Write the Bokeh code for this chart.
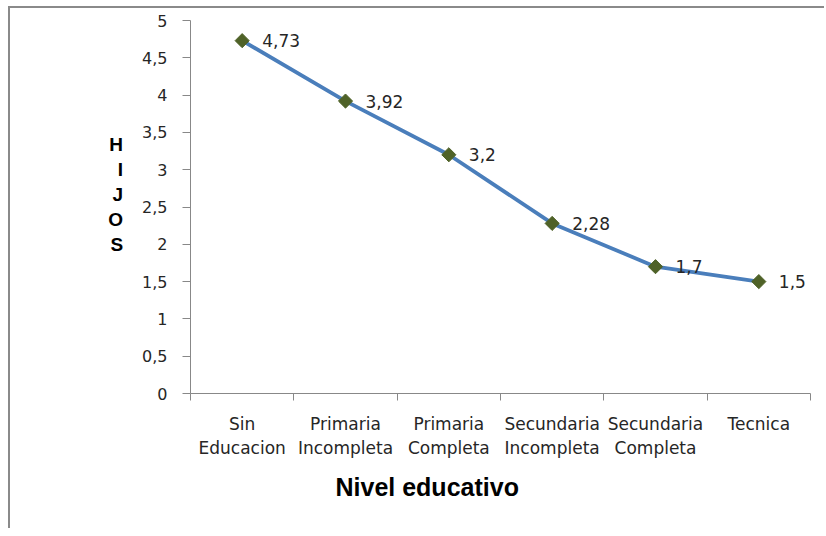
import math
from bokeh.plotting import figure
from bokeh.models import Range1d, FixedTicker, Title
from bokeh.core.properties import value
from bokeh.embed import file_html
from bokeh.resources import INLINE

categories = ["Sin\nEducacion", "Primaria\nIncompleta", "Primaria\nCompleta",
              "Secundaria\nIncompleta", "Secundaria\nCompleta", "Tecnica"]
hijos = [4.73, 3.92, 3.2, 2.28, 1.7, 1.5]
data_labels = ["4,73", "3,92", "3,2", "2,28", "1,7", "1,5"]
y_ticks = [0, 0.5, 1, 1.5, 2, 2.5, 3, 3.5, 4, 4.5, 5]
y_tick_labels = ["0", "0,5", "1", "1,5", "2", "2,5", "3", "3,5", "4", "4,5", "5"]

n = len(categories)
xs = [i + 0.5 for i in range(n)]

p = figure(frame_width=620, frame_height=373, output_backend="svg", toolbar_location=None,
           x_range=Range1d(0, n), y_range=Range1d(0, 5),
           min_border_left=180, min_border_right=14, min_border_top=12, min_border_bottom=135)
p.styles = {"border-left": "2px solid #8a8a8a", "border-top": "2px solid #8a8a8a",
            "margin-left": "8px", "margin-top": "6px"}
p.background_fill_color = "white"
p.border_fill_color = "white"
p.outline_line_color = None
p.xgrid.visible = False
p.ygrid.visible = False

axis_col = "#888888"
lab_col = "#262626"

# x axis
xa = p.xaxis[0]
xa.ticker = FixedTicker(ticks=xs, minor_ticks=list(range(n + 1)))
xa.major_label_overrides = {x: c for x, c in zip(xs, categories)}
xa.major_tick_line_color = None
xa.minor_tick_line_color = axis_col
xa.minor_tick_out = 7
xa.minor_tick_in = 0
xa.axis_line_color = axis_col
xa.major_label_text_font = "DejaVu Sans"
xa.major_label_text_font_size = "17px"
xa.major_label_text_color = lab_col
xa.major_label_text_line_height = 1.21
xa.major_label_standoff = 13
xa.axis_label = " "
xa.axis_label_text_font_size = "4px"
xa.axis_label_standoff = 0

# y axis
ya = p.yaxis[0]
ya.ticker = FixedTicker(ticks=y_ticks, minor_ticks=[])
ya.major_label_overrides = {t: l for t, l in zip(y_ticks, y_tick_labels)}
ya.major_tick_out = 8
ya.major_tick_in = 0
ya.major_tick_line_color = axis_col
ya.axis_line_color = axis_col
ya.major_label_text_font = "DejaVu Sans"
ya.major_label_text_font_size = "16px"
ya.major_label_text_color = lab_col
ya.major_label_standoff = 15
ya.axis_label = "H\nI\nJ\nO\nS\n"
ya.axis_label_orientation = "horizontal"
ya.axis_label_text_font = "Liberation Sans"
ya.axis_label_text_font_style = "bold"
ya.axis_label_text_font_size = "19px"
ya.axis_label_text_color = "black"
ya.axis_label_standoff = 16

# x axis title
p.add_layout(Title(text="Nivel educativo", align="left", offset=145, standoff=5,
                   text_font="Liberation Sans", text_font_size="25px",
                   text_font_style="bold", text_color="black"), "below")

p.line(xs, hijos, line_color="#4A7EBB", line_width=3.8)
p.scatter(xs, hijos, marker="square", angle=math.pi / 4, size=10,
          fill_color="#4F6228", line_color="#4F6228")
p.text(xs, hijos, text=data_labels, x_offset=20, text_baseline="middle",
       text_font=value("DejaVu Sans"), text_font_size="17px", text_color=lab_col)

open("out.html", "w").write(file_html(p, INLINE))
